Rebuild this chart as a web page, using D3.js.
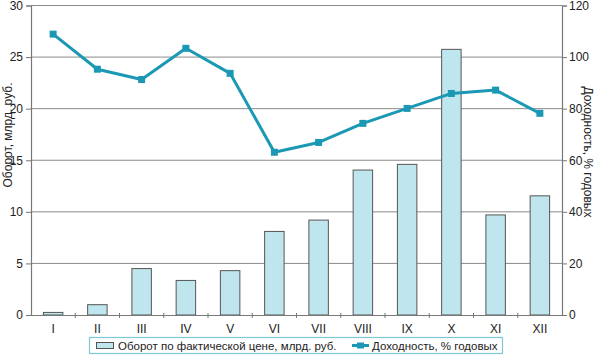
<!DOCTYPE html>
<html><head><meta charset="utf-8">
<script src="https://cdn.jsdelivr.net/npm/d3@7"></script>
<style>
body{margin:0;background:#fff;}
text{font-family:"Liberation Sans",Arial,sans-serif;fill:#222;}
</style></head>
<body><svg id="c" width="595" height="357"></svg>
<script>
const months = ["I","II","III","IV","V","VI","VII","VIII","IX","X","XI","XII"];
const turnover = [0.25,1.0,4.5,3.35,4.3,8.1,9.2,14.05,14.6,25.75,9.7,11.55];
const yieldPct = [108.9,95.3,91.3,103.4,93.7,63.1,66.9,74.3,80.1,85.9,87.2,78.2];
const leftTicks = [0,5,10,15,20,25,30];
const rightTicks = [0,20,40,60,80,100,120];
const seriesNames = ["Оборот по фактической цене, млрд. руб.","Доходность, % годовых"];
const axisTitles = ["Оборот, млрд. руб.","Доходность, % годовых"];

const svg = d3.select("#c");
const L=31, R=562, T=5.5, B=315;
const x = d3.scaleBand().domain(months).range([L,R]).paddingInner(0.56).paddingOuter(0.28);
const xs = d3.scaleBand().domain(months).range([L,R]);
const yL = d3.scaleLinear().domain([0,30]).range([B,T]);
const yR = d3.scaleLinear().domain([0,120]).range([B,T]);
const lineCol="#1b98b3", barFill="#bfe5ee", barStroke="#555";

// gridlines
svg.append("g").selectAll("line").data(leftTicks.slice(1)).join("line")
  .attr("x1",L).attr("x2",R).attr("y1",d=>yL(d)).attr("y2",d=>yL(d))
  .attr("stroke","#8a8a8a").attr("stroke-width",1);

// bars
svg.append("g").selectAll("rect").data(turnover).join("rect")
  .attr("x",(d,i)=>x(months[i])).attr("width",x.bandwidth())
  .attr("y",d=>yL(d)).attr("height",d=>B-yL(d))
  .attr("fill",barFill).attr("stroke",barStroke).attr("stroke-width",1);

// axes
const gl = svg.append("g").attr("transform",`translate(${L},0)`)
  .call(d3.axisLeft(yL).tickValues(leftTicks).tickSize(5).tickPadding(3));
const gr = svg.append("g").attr("transform",`translate(${R},0)`)
  .call(d3.axisRight(yR).tickValues(rightTicks).tickSize(5).tickPadding(2));
[gl,gr].forEach(g=>{
  g.select(".domain").attr("stroke","#777").attr("stroke-width",1.2);
  g.selectAll(".tick line").attr("stroke","#777");
  g.selectAll(".tick text").attr("font-size",12).attr("fill","#222").attr("font-family","Liberation Sans, Arial, sans-serif");
});
const gx = svg.append("g").attr("transform",`translate(0,${B})`)
  .call(d3.axisBottom(xs).tickSize(0).tickPadding(9));
gx.select(".domain").attr("stroke","#777").attr("stroke-width",1.2);
gx.selectAll(".tick text").attr("font-size",12).attr("fill","#222").attr("font-family","Liberation Sans, Arial, sans-serif");
// boundary ticks
svg.append("g").selectAll("line").data(months.slice(1)).join("line")
  .attr("x1",d=>xs(d)).attr("x2",d=>xs(d)).attr("y1",B-2).attr("y2",B+3)
  .attr("stroke","#777");

// line
const line = d3.line().x((d,i)=>xs(months[i])+xs.bandwidth()/2).y(d=>yR(d));
svg.append("path").datum(yieldPct).attr("d",line)
  .attr("fill","none").attr("stroke",lineCol).attr("stroke-width",3).attr("stroke-linejoin","round");
svg.append("g").selectAll("rect").data(yieldPct).join("rect")
  .attr("x",(d,i)=>xs(months[i])+xs.bandwidth()/2-3.5).attr("y",d=>yR(d)-3.5)
  .attr("width",7).attr("height",7).attr("fill",lineCol);

// axis titles
svg.append("text").attr("transform","translate(12,135) rotate(-90)")
  .attr("text-anchor","middle").attr("font-size",12).text(axisTitles[0]);
svg.append("text").attr("transform","translate(584,152) rotate(90)")
  .attr("text-anchor","middle").attr("font-size",12).text(axisTitles[1]);

// legend
const lg = svg.append("g");
lg.append("rect").attr("x",89.5).attr("y",337.5).attr("width",413).attr("height",16)
  .attr("fill","#fff").attr("stroke","#7cc7d8").attr("stroke-width",1.2);
lg.append("rect").attr("x",96.5).attr("y",342.5).attr("width",17).attr("height",6)
  .attr("fill",barFill).attr("stroke",barStroke);
lg.append("text").attr("x",118).attr("y",350).attr("font-size",11.5).text(seriesNames[0]);
lg.append("line").attr("x1",352).attr("x2",369).attr("y1",345.5).attr("y2",345.5)
  .attr("stroke",lineCol).attr("stroke-width",3);
lg.append("rect").attr("x",357).attr("y",342.5).attr("width",7).attr("height",6).attr("fill",lineCol);
lg.append("text").attr("x",372).attr("y",350).attr("font-size",11.5).text(seriesNames[1]);
</script></body></html>
